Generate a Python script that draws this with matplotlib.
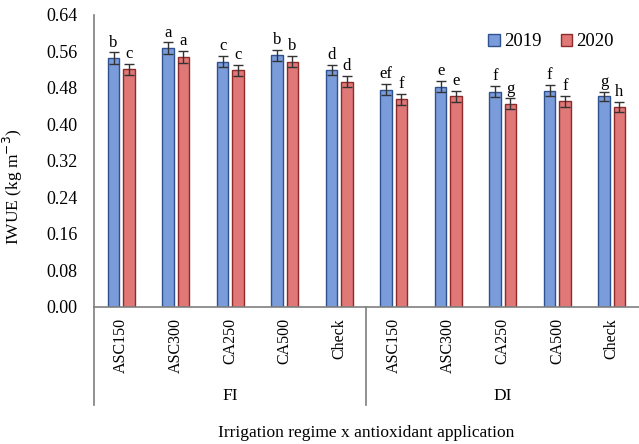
import matplotlib
matplotlib.use("Agg")
import matplotlib.pyplot as plt
import numpy as np

treatments = ["ASC150", "ASC300", "CA250", "CA500", "Check",
              "ASC150", "ASC300", "CA250", "CA500", "Check"]
regimes = ["FI", "DI"]
v2019 = [0.545, 0.567, 0.538, 0.552, 0.519, 0.476, 0.483, 0.472, 0.474, 0.462]
v2020 = [0.521, 0.548, 0.519, 0.538, 0.494, 0.455, 0.462, 0.445, 0.451, 0.438]
e2019 = [0.013, 0.013, 0.012, 0.012, 0.011, 0.012, 0.012, 0.012, 0.012, 0.010]
e2020 = [0.012, 0.013, 0.012, 0.013, 0.012, 0.012, 0.012, 0.012, 0.012, 0.011]
l2019 = ["b", "a", "c", "b", "d", "ef", "e", "f", "f", "g"]
l2020 = ["c", "a", "c", "b", "d", "f", "e", "g", "f", "h"]
yticks = [0.00, 0.08, 0.16, 0.24, 0.32, 0.40, 0.48, 0.56, 0.64]

plt.rcParams['font.family'] = ['Liberation Serif', 'DejaVu Serif']

fig = plt.figure(figsize=(6.39, 4.44), dpi=100)
ax = fig.add_axes([0.147, 0.3086, 0.853, 0.6577])

x = np.arange(len(treatments))
w = 0.21
off = 0.14
blue_f, blue_e = "#7A9CDB", "#2F528F"
red_f, red_e = "#E07878", "#8E2A2A"

ax.bar(x - off, v2019, w, color=blue_f, edgecolor=blue_e, linewidth=1.0, label="2019")
ax.bar(x + off, v2020, w, color=red_f, edgecolor=red_e, linewidth=1.0, label="2020")
ax.errorbar(x - off, v2019, yerr=e2019, fmt="none", ecolor="#333333", elinewidth=1.0, capsize=3.5, capthick=1.0)
ax.errorbar(x + off, v2020, yerr=e2020, fmt="none", ecolor="#333333", elinewidth=1.0, capsize=3.5, capthick=1.0)

for xi, v, e, t in zip(x - off, v2019, e2019, l2019):
    ax.text(xi, v + e + 0.004, t, ha="center", va="bottom", fontsize=12)
for xi, v, e, t in zip(x + off, v2020, e2020, l2020):
    ax.text(xi, v + e + 0.004, t, ha="center", va="bottom", fontsize=12)

ax.set_xlim(-0.5, len(treatments) - 0.5)
ax.set_ylim(0, 0.64)
ax.set_yticks(yticks)
ax.set_yticklabels([f"{t:.2f}" for t in yticks], fontsize=13)
ax.tick_params(axis="y", length=0, pad=12)
ax.set_xticks(x)
ax.set_xticklabels(treatments, rotation=90, fontsize=11.5)
ax.tick_params(axis="x", length=0, pad=8)
ax.set_ylabel("IWUE (kg m$^{-3}$)", fontsize=12.5)
ax.yaxis.set_label_coords(-0.127, 0.41)

for s in ["top", "right"]:
    ax.spines[s].set_visible(False)
ax.spines["left"].set_color("#7f7f7f")
ax.spines["bottom"].set_color("#7f7f7f")
ax.spines["left"].set_linewidth(1.2)
ax.spines["bottom"].set_linewidth(1.2)

# group separators below axis
trans = ax.get_xaxis_transform()
for xs in [-0.5, 4.5]:
    ax.plot([xs, xs], [0, -0.335], transform=trans, color="#7f7f7f", lw=1.2, clip_on=False)
for gi, g in enumerate(regimes):
    ax.text(gi * 5 + 2, -0.305, g, transform=trans, ha="center", va="center", fontsize=12.5)

ax.text(0.5, -0.43, "Irrigation regime x antioxidant application", transform=ax.transAxes,
        ha="center", va="center", fontsize=12.5)

ax.legend(loc="upper right", bbox_to_anchor=(0.985, 0.995), ncol=2, frameon=False,
          fontsize=13.5, handlelength=0.6, handleheight=0.6, handletextpad=0.25,
          columnspacing=1.0)

fig.savefig("out.png", dpi=100)
